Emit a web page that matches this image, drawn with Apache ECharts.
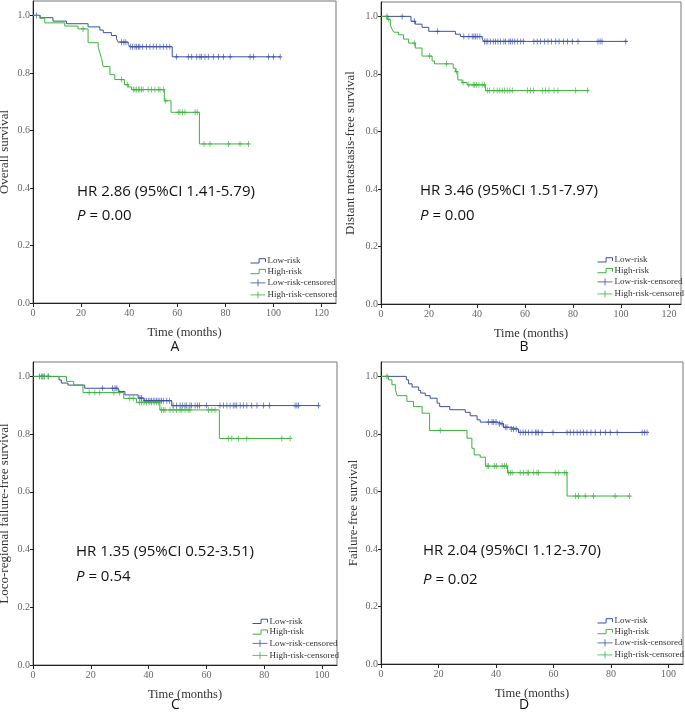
<!DOCTYPE html>
<html>
<head>
<meta charset="utf-8">
<script src="https://cdn.jsdelivr.net/npm/echarts@6/dist/echarts.min.js"></script>
<style>
html,body{margin:0;padding:0;background:#fff;}
#chart{width:685px;height:713px;}
</style>
</head>
<body>
<div id="chart"></div>
<script>
// ---------------- DATA ----------------
// Panel A: Overall survival
const aLowT  = [0, 3.0, 8.3, 13.9, 22.9, 27.8, 29.2, 32.6, 34.7, 35.4, 39.6, 40.3, 57.9, 102.8];
const aLowS  = [1, 0.992, 0.980, 0.971, 0.960, 0.949, 0.940, 0.930, 0.919, 0.907, 0.899, 0.891, 0.856, 0.856];
const aLowCens = [1.5, 36.8, 37.8, 38.6, 40.6, 41.4, 42.4, 43.1, 43.8, 44.4, 45.6, 47.2, 48.6, 50.0, 51.4, 52.8, 54.2, 55.6, 56.9,
  59.7, 64.6, 66.0, 68.1, 69.4, 70.1, 71.5, 72.9, 75.0, 77.1, 79.2, 82.0, 90.3, 91.7, 97.9, 100.0, 102.8];
const aHighT = [0, 2.8, 4.9, 13.2, 18.7, 22.9, 27.1, 27.8, 28.5, 29.2, 32.0, 34.0, 38.0, 39.6, 41.0, 54.6, 57.4, 69.2, 89.6];
const aHighS = [1, 0.990, 0.974, 0.963, 0.953, 0.905, 0.890, 0.870, 0.850, 0.822, 0.794, 0.777, 0.759, 0.751, 0.742, 0.703, 0.663, 0.553, 0.553];
const aHighCens = [20.8, 36.8, 39.2, 41.7, 42.4, 43.1, 43.8, 44.4, 45.1, 45.8, 47.9, 49.3, 50.7, 52.1, 52.8, 54.2, 55.2,
  60.4, 61.1, 62.2, 63.2, 67.4, 68.3, 71.1, 73.6, 81.3, 86.1, 89.6];

// Panel B: Distant metastasis-free survival
const bLowT  = [0, 12.5, 14.3, 17.1, 19.9, 31.0, 33.1, 42.2, 42.8, 102.7];
const bLowS  = [1, 0.983, 0.973, 0.962, 0.948, 0.938, 0.930, 0.921, 0.913, 0.913];
const bLowCens = [2.5, 8.8, 13.9, 23.6, 34.5, 36.6, 38.0, 38.7, 39.4, 40.1, 41.2, 43.1, 43.8, 44.5, 45.6, 46.8, 47.7, 48.7, 49.8,
  51.2, 51.9, 53.3, 54.0, 54.7, 55.7, 56.8, 58.2, 59.3, 63.7, 65.1, 66.5, 68.2, 69.6, 71.0, 72.8, 74.2, 76.0, 77.7, 79.7, 82.1,
  90.4, 91.3, 92.1, 102.0];
const bHighT = [0, 2.5, 3.9, 4.6, 5.3, 7.3, 9.4, 11.5, 14.3, 17.1, 21.3, 22.3, 30.1, 31.0, 32.0, 33.8, 35.9, 43.5, 86.7];
const bHighS = [1, 0.990, 0.970, 0.955, 0.945, 0.936, 0.921, 0.907, 0.890, 0.862, 0.845, 0.835, 0.820, 0.808, 0.779, 0.770, 0.762, 0.742, 0.742];
const bHighCens = [3.2, 13.9, 20.3, 27.3, 31.4, 34.2, 36.6, 38.4, 38.9, 39.8, 40.8, 42.2, 43.1, 44.3, 45.2, 47.0, 48.4, 49.5,
  50.5, 51.5, 52.6, 53.7, 54.7, 61.0, 62.3, 63.5, 67.2, 68.6, 70.0, 72.1, 73.7, 81.1, 86.0];

// Panel C: Loco-regional failure-free survival
const cLowT  = [0, 9.0, 9.8, 12.1, 17.9, 29.5, 31.8, 36.4, 38.4, 48.0, 98.8];
const cLowS  = [1, 0.988, 0.977, 0.970, 0.959, 0.948, 0.936, 0.925, 0.916, 0.899, 0.899];
const cLowCens = [2.3, 3.2, 3.8, 5.2, 24.1, 27.5, 28.4, 29.0, 37.0, 37.6, 38.7, 39.3, 39.9, 40.5, 41.0, 41.6, 42.2, 42.8, 43.3,
  43.9, 44.5, 45.1, 46.3, 47.2, 48.5, 49.7, 50.9, 51.8, 52.6, 53.2, 54.3, 54.9, 56.1, 56.9, 57.6, 60.1, 64.7, 65.9, 67.1, 68.2,
  69.3, 69.9, 70.5, 71.7, 72.8, 74.0, 75.7, 77.5, 79.8, 81.8, 90.7, 91.3, 91.9, 98.8];
const cHighT = [0, 11.6, 14.1, 17.3, 31.4, 35.8, 43.9, 64.5, 89.0];
const cHighS = [1, 0.983, 0.970, 0.944, 0.924, 0.910, 0.884, 0.785, 0.785];
const cHighCens = [2.9, 4.0, 5.4, 19.4, 21.4, 23.1, 28.0, 29.9, 33.5, 34.7, 36.8, 37.6, 38.4, 39.3, 40.2, 41.0, 41.9, 42.8, 43.5,
  44.5, 45.1, 45.7, 47.4, 48.5, 49.7, 50.9, 51.5, 52.6, 53.7, 54.3, 60.7, 61.9, 63.0, 67.6, 68.8, 71.1, 74.0, 86.1, 89.0];

// Panel D: Failure-free survival
const dLowT  = [0, 8.8, 9.6, 10.8, 13.1, 13.8, 15.4, 17.1, 19.5, 20.4, 23.9, 29.3, 31.0, 33.4, 34.5, 40.6, 42.6, 44.9, 47.8, 92.5];
const dLowS  = [1, 0.988, 0.974, 0.963, 0.951, 0.942, 0.933, 0.924, 0.907, 0.895, 0.884, 0.875, 0.863, 0.849, 0.841, 0.835, 0.823, 0.817, 0.805, 0.805];
const dLowCens = [2.1, 37.4, 38.6, 39.2, 40.0, 41.2, 42.1, 43.2, 43.8, 45.3, 46.1, 47.0, 48.4, 49.4, 50.2, 51.3, 52.5, 53.7,
  54.2, 54.8, 56.0, 59.8, 64.7, 65.8, 67.0, 68.2, 69.3, 70.4, 71.6, 73.0, 74.5, 76.3, 78.0, 79.7, 82.1, 90.8, 91.6, 92.5];
const dHighT = [0, 2.6, 3.8, 5.0, 5.6, 9.0, 11.3, 14.3, 16.9, 29.9, 31.6, 32.4, 34.5, 36.3, 44.0, 64.7, 86.7];
const dHighS = [1, 0.988, 0.971, 0.953, 0.933, 0.913, 0.895, 0.872, 0.812, 0.785, 0.750, 0.727, 0.719, 0.688, 0.665, 0.584, 0.584];
const dHighCens = [20.6, 36.9, 37.4, 39.4, 40.1, 42.1, 42.9, 43.6, 44.4, 45.0, 45.6, 48.4, 49.6, 50.8, 51.3, 53.1, 54.2, 54.8,
  60.6, 61.8, 63.7, 64.4, 67.6, 68.7, 71.0, 73.9, 81.4, 86.4];

// Texts and ticks
const yTitles = ['Overall survival', 'Distant metastasis-free survival', 'Loco-regional failure-free survival', 'Failure-free survival'];
const hrTexts = ['HR 2.86 (95%CI 1.41-5.79)', 'HR 3.46 (95%CI 1.51-7.97)', 'HR 1.35 (95%CI 0.52-3.51)', 'HR 2.04 (95%CI 1.12-3.70)'];
const pValues = ['0.00', '0.00', '0.54', '0.02'];
const panelLetters = ['A', 'B', 'C', 'D'];
const xTicksTop = [0, 20, 40, 60, 80, 100, 120];
const xTicksBottom = [0, 20, 40, 60, 80, 100];
const yTicks = [0, 0.2, 0.4, 0.6, 0.8, 1.0];
const legendNames = ['Low-risk', 'High-risk', 'Low-risk-censored', 'High-risk-censored'];
const xTitle = 'Time (months)';

// ---------------- STYLE / LAYOUT ----------------
const BLUE = '#3c4fa6';
const GREEN = '#3cb43c';
const SERIF = '"Liberation Serif", "DejaVu Serif", serif';
const SANS = '"Open Sans", "Noto Sans", sans-serif';

const panels = [
  {low: [aLowT, aLowS, aLowCens], high: [aHighT, aHighS, aHighCens], xTicks: xTicksTop,
   grid: {left: 33, top: 1, width: 303, height: 302}, xMax: 126, yGap: 22,
   legend: {left: 248, top: 255.5}, hr: {left: 77, top: 183}, p: {left: 77, top: 207.5},
   letter: {left: 170.5, top: 339}},
  {low: [bLowT, bLowS, bLowCens], high: [bHighT, bHighS, bHighCens], xTicks: xTicksTop,
   grid: {left: 381, top: 2, width: 300, height: 302}, xMax: 125, yGap: 24,
   legend: {left: 595, top: 254.5}, hr: {left: 420, top: 182}, p: {left: 420, top: 207.5},
   letter: {left: 519.5, top: 339}},
  {low: [cLowT, cLowS, cLowCens], high: [cHighT, cHighS, cHighCens], xTicks: xTicksBottom,
   grid: {left: 33, top: 362, width: 304, height: 303}, xMax: 105.2, yGap: 22,
   legend: {left: 250, top: 616}, hr: {left: 76, top: 543}, p: {left: 76, top: 568},
   letter: {left: 171, top: 697.5}},
  {low: [dLowT, dLowS, dLowCens], high: [dHighT, dHighS, dHighCens], xTicks: xTicksBottom,
   grid: {left: 381, top: 362, width: 302, height: 302}, xMax: 105, yGap: 21,
   legend: {left: 595, top: 615.5}, hr: {left: 423, top: 542}, p: {left: 423, top: 571.5},
   letter: {left: 519, top: 697}}
];

function survAt(T, S, t) {
  let v = S[0];
  for (let i = 0; i < T.length; i++) { if (T[i] <= t) v = S[i]; }
  return v;
}

const STEP_ICON = 'path://M0,4 L8,4 L8,0 L14,0 L14,3';
const PLUS_ICON = 'path://M0,3.5 L15,3.5 M7.5,0 L7.5,7';
const CENS_SYMBOL = 'path://M0,4 L8,4 M4,0 L4,8';

const option = {
  backgroundColor: '#ffffff',
  animation: false,
  grid: [], xAxis: [], yAxis: [], series: [], legend: [], title: []
};

panels.forEach((p, i) => {
  option.grid.push(Object.assign({show: true, borderColor: '#777', borderWidth: 1, backgroundColor: '#fff',
    outerBoundsMode: 'none', containLabel: false}, p.grid));
  option.xAxis.push({
    type: 'value', gridIndex: i, min: 0, max: p.xMax,
    name: xTitle, nameLocation: 'middle', nameGap: 23, nameMoveOverlap: false,
    nameTextStyle: {fontFamily: SERIF, fontSize: 12.5, color: '#333'},
    axisLine: {show: true, onZero: false, lineStyle: {color: '#222', width: 1}},
    axisTick: {show: true, inside: false, length: 4, lineStyle: {color: '#222'}, customValues: p.xTicks},
    axisLabel: {show: true, margin: 5, fontFamily: SERIF, fontSize: 10, color: '#666', customValues: p.xTicks,
      formatter: v => String(v)},
    splitLine: {show: false}
  });
  option.yAxis.push({
    type: 'value', gridIndex: i, min: 0, max: 1.05,
    name: yTitles[i], nameLocation: 'middle', nameGap: p.yGap, nameRotate: 90, nameMoveOverlap: false,
    nameTextStyle: {fontFamily: SERIF, fontSize: 13, color: '#333'},
    axisLine: {show: true, onZero: false, lineStyle: {color: '#222', width: 1}},
    axisTick: {show: true, inside: false, length: 3, lineStyle: {color: '#222'}, customValues: yTicks},
    axisLabel: {show: true, margin: 3, fontFamily: SERIF, fontSize: 10, color: '#666', customValues: yTicks,
      formatter: v => v.toFixed(1)},
    splitLine: {show: false}
  });
  const groups = [[p.low, BLUE, 'Low-risk', 'Low-risk-censored'], [p.high, GREEN, 'High-risk', 'High-risk-censored']];
  groups.forEach(([g, col, nm, cnm]) => {
    const [T, S, C] = g;
    option.series.push({
      type: 'line', name: nm, xAxisIndex: i, yAxisIndex: i, step: 'end', symbol: 'none',
      color: col, lineStyle: {color: col, width: 1}, silent: true,
      data: T.map((t, k) => [t, S[k]])
    });
  });
  groups.forEach(([g, col, nm, cnm]) => {
    const [T, S, C] = g;
    option.series.push({
      type: 'scatter', name: cnm, xAxisIndex: i, yAxisIndex: i, symbol: CENS_SYMBOL, symbolSize: [4, 6],
      color: col, itemStyle: {color: 'none', borderColor: col, borderWidth: 1}, silent: true,
      data: C.map(t => [t, survAt(T, S, t)])
    });
  });
  option.legend.push({
    left: p.legend.left, top: p.legend.top, orient: 'vertical', padding: 0,
    itemWidth: 15, itemHeight: 8, itemGap: 0, selectedMode: false,
    textStyle: {fontFamily: SERIF, fontSize: 9, color: '#333', lineHeight: 10.7, padding: [0, 0, 0, -3]},
    data: [
      {name: legendNames[0], icon: STEP_ICON, itemStyle: {color: 'none', borderColor: BLUE, borderWidth: 1}},
      {name: legendNames[1], icon: STEP_ICON, itemStyle: {color: 'none', borderColor: GREEN, borderWidth: 1}},
      {name: legendNames[2], icon: PLUS_ICON, itemStyle: {color: 'none', borderColor: BLUE, borderWidth: 1}},
      {name: legendNames[3], icon: PLUS_ICON, itemStyle: {color: 'none', borderColor: GREEN, borderWidth: 1}}
    ]
  });
  option.title.push({
    text: hrTexts[i], left: p.hr.left, top: p.hr.top, padding: 0,
    textStyle: {fontFamily: SANS, fontSize: 15, fontWeight: 'normal', color: '#111', lineHeight: 17}
  });
  option.title.push({
    text: '{i|P} = ' + pValues[i], left: p.p.left, top: p.p.top, padding: 0,
    textStyle: {fontFamily: SANS, fontSize: 15, fontWeight: 'normal', color: '#111', lineHeight: 17,
      rich: {i: {fontFamily: SANS, fontSize: 15, fontStyle: 'italic', color: '#111', lineHeight: 17}}}
  });
  option.title.push({
    text: panelLetters[i], left: p.letter.left, top: p.letter.top, padding: 0,
    textStyle: {fontFamily: SANS, fontSize: 14, fontWeight: 'normal', color: '#111', lineHeight: 16}
  });
});

const chart = echarts.init(document.getElementById('chart'), null, {renderer: 'canvas'});
chart.setOption(option);
</script>
</body>
</html>
